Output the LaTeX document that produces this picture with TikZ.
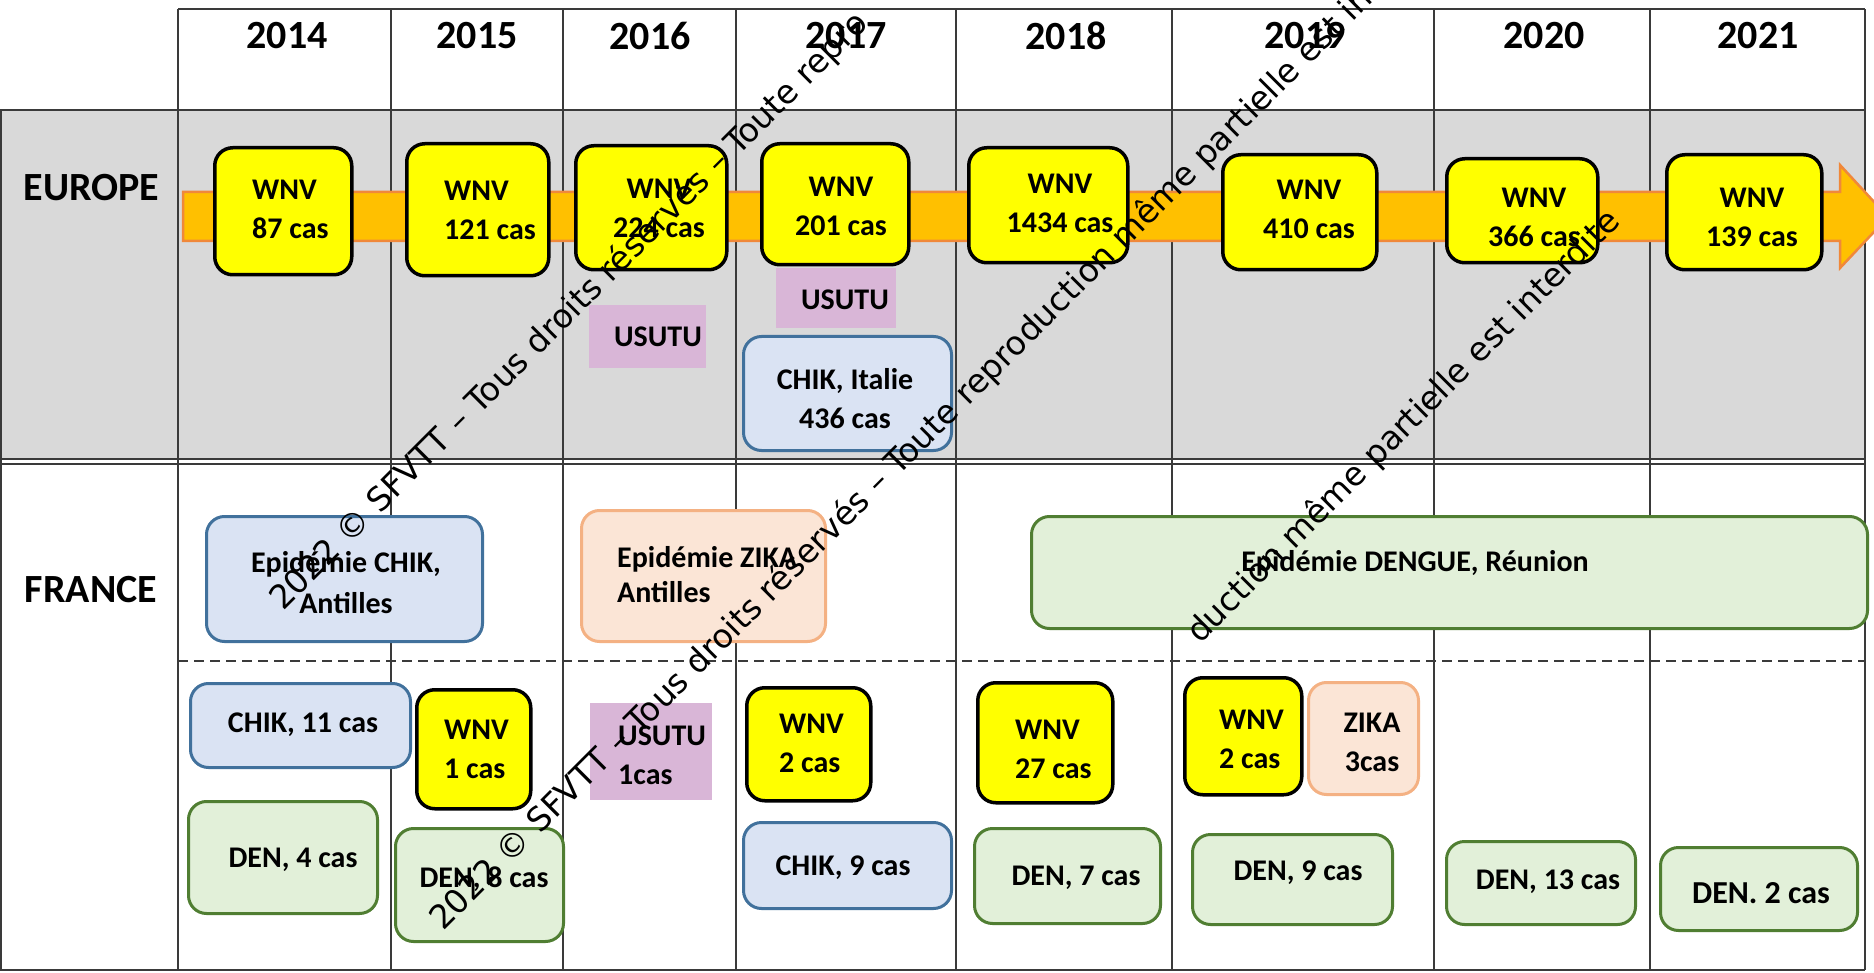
\documentclass[tikz,border=0pt]{standalone}
\usepackage{fontspec}
\setmainfont{Carlito}
\newfontfamily\wmfont{DejaVu Sans}
\definecolor{gridc}{HTML}{3A3A3A}
\definecolor{grayfill}{HTML}{D9D9D9}
\definecolor{arrowfill}{HTML}{FFC000}
\definecolor{arrowdraw}{HTML}{F0883A}
\definecolor{yel}{HTML}{FFFF00}
\definecolor{bluefill}{HTML}{DAE3F3}
\definecolor{bluedraw}{HTML}{41719C}
\definecolor{pinkfill}{HTML}{FBE5D6}
\definecolor{pinkdraw}{HTML}{F4B183}
\definecolor{greenfill}{HTML}{E2F0D9}
\definecolor{greendraw}{HTML}{507E32}
\definecolor{usutu}{HTML}{D9B6D7}
\tikzset{
  gridline/.style={draw=gridc, line width=2pt},
  wnvbox/.style={draw=black, fill=yel, line width=3.5pt, rounded corners=18pt},
  blubox/.style={draw=bluedraw, fill=bluefill, line width=3pt, rounded corners=18pt},
  orabox/.style={draw=pinkdraw, fill=pinkfill, line width=3pt, rounded corners=18pt},
  grnbox/.style={draw=greendraw, fill=greenfill, line width=3pt, rounded corners=18pt},
  usubox/.style={fill=usutu},
  txt/.style={font=\fontsize{30}{39}\selectfont\bfseries, inner sep=0pt, align=center, text=black},
  ltxt/.style={txt, align=left, anchor=west},
  hdr/.style={font=\fontsize{40}{48}\selectfont\bfseries, inner sep=0pt, text=black},
  wm/.style={font=\wmfont\fontsize{33}{40}\selectfont, rotate=45, anchor=base west, inner sep=0pt, text=black},
}
\newcommand{\bx}[6]{\node[#1, anchor=north west, minimum width={#5-#3}, minimum height={#6-#4}, inner sep=0pt] (#2) at (#3,#4) {};}
\begin{document}
\begin{tikzpicture}[x=1pt,y=-1pt]
\useasboundingbox (0,0) rectangle (1874,973);
\begin{scope}
\clip (0,0) rectangle (1874,973);
% grid
\fill[white] (0,0) rectangle (1874,973);
\fill[grayfill] (0,110) rectangle (1865,459);
\draw[gridline] (178,9.5) -- (1865,9.5);
\foreach \x in {178,391,563,736,956,1172,1434,1650,1865}
  \draw[gridline] (\x,9.5) -- (\x,970);
\draw[gridline] (1,110) -- (1,970);
\draw[gridline] (0,110) -- (1865,110);
\draw[gridline] (0,459) -- (1865,459);
\draw[gridline] (0,464) -- (1865,464);
\draw[gridline] (0,970) -- (1865,970);
\draw[draw=gridc, line width=2pt, dash pattern=on 10pt off 6pt] (178,661) -- (1865,661);
% headers
\node[hdr] (y2014) at (287,36) {2014};
\node[hdr] (y2015) at (477,36) {2015};
\node[hdr] (y2016) at (650,36) {2016};
\node[hdr] (y2017) at (846,36) {2017};
\node[hdr] (y2018) at (1066,36) {2018};
\node[hdr] (y2019) at (1305,36) {2019};
\node[hdr] (y2020) at (1544,36) {2020};
\node[hdr] (y2021) at (1758,36) {2021};
\node[hdr] (europe) at (91.5,188) {EUROPE};
\node[hdr] (france) at (91,590) {FRANCE};
% arrow
\draw[fill=arrowfill, draw=arrowdraw, line width=2.5pt, line join=miter]
  (183,192) -- (1840,192) -- (1840,165) -- (1888,217) -- (1840,268) -- (1840,241) -- (183,241) -- cycle;
% Europe WNV
\bx{wnvbox}{e1}{213}{146}{350}{273}
\node[ltxt] (e1t) at (252,209) {WNV\\87 cas};
\bx{wnvbox}{e2}{405}{142}{547}{274}
\node[ltxt] (e2t) at (444,210) {WNV\\121 cas};
\bx{wnvbox}{e3}{574}{144}{725}{268}
\node[txt] (e3t) at (659,208) {WNV\\224 cas};
\bx{wnvbox}{e4}{760}{142}{907}{263}
\node[txt] (e4t) at (841,206) {WNV\\201 cas};
\bx{wnvbox}{e5}{967}{146}{1126}{261}
\node[txt] (e5t) at (1060,203.5) {WNV\\1434 cas};
\bx{wnvbox}{e6}{1221}{153}{1375}{268}
\node[txt] (e6t) at (1309,209) {WNV\\410 cas};
\bx{wnvbox}{e7}{1445}{157}{1596}{261}
\node[txt] (e7t) at (1534,217) {WNV\\366 cas};
\bx{wnvbox}{e8}{1665}{153}{1820}{268}
\node[txt] (e8t) at (1752,217) {WNV\\139 cas};
% Europe others
\bx{usubox}{u1}{589}{305}{706}{368}
\node[txt] (u1t) at (658,337) {USUTU};
\bx{usubox}{u2}{776}{268}{896}{328}
\node[txt] (u2t) at (845,300) {USUTU};
\bx{blubox}{c1}{742}{335}{950}{449}
\node[txt] (c1t) at (845,399) {CHIK, Italie\\436 cas};
% France
\bx{blubox}{f1}{205}{515}{481}{640}
\node[txt, font=\fontsize{30}{41}\selectfont\bfseries] (f1t) at (346,582.5) {Epidémie CHIK,\\Antilles};
\bx{orabox}{f2}{580}{509}{824}{640}
\node[ltxt, font=\fontsize{30}{35}\selectfont\bfseries] (f2t) at (617,574.5) {Epidémie ZIKA\\Antilles};
\bx{grnbox}{f3}{1030}{515}{1866}{627}
\node[txt] (f3t) at (1415,563) {Epidémie DENGUE, Réunion};
\bx{blubox}{f4}{189}{682}{409}{766}
\node[txt] (f4t) at (303,725) {CHIK, 11 cas};
\bx{wnvbox}{f5}{415}{688}{529}{807}
\node[ltxt] (f5t) at (444,749) {WNV\\1 cas};
\bx{usubox}{f6}{590}{703}{712}{800}
\node[ltxt] (f6t) at (618,755) {USUTU\\1cas};
\bx{wnvbox}{f7}{745}{686}{869}{799}
\node[ltxt] (f7t) at (779,743) {WNV\\2 cas};
\bx{grnbox}{f8}{187}{800}{376}{912}
\node[txt] (f8t) at (293,860) {DEN, 4 cas};
\bx{grnbox}{f9}{394}{827}{562}{940}
\node[txt] (f9t) at (484,879) {DEN, 8 cas};
\bx{blubox}{f10}{742}{821}{950}{907}
\node[txt] (f10t) at (843,868) {CHIK, 9 cas};
\bx{wnvbox}{f11}{976}{681}{1111}{801}
\node[ltxt] (f11t) at (1015,749) {WNV\\27 cas};
\bx{wnvbox}{f12}{1183}{676}{1300}{793}
\node[ltxt] (f12t) at (1219,739) {WNV\\2 cas};
\bx{orabox}{f13}{1307}{681}{1417}{793}
\node[txt] (f13t) at (1372,742) {ZIKA\\3cas};
\bx{grnbox}{f14}{973}{827}{1159}{922}
\node[txt] (f14t) at (1076,878) {DEN, 7 cas};
\bx{grnbox}{f15}{1191}{833}{1391}{923}
\node[txt] (f15t) at (1298,873) {DEN, 9 cas};
\bx{grnbox}{f16}{1445}{840}{1634}{923}
\node[txt] (f16t) at (1548,882) {DEN, 13 cas};
\bx{grnbox}{f17}{1659}{846}{1856}{929}
\node[txt, font=\fontsize{32}{39}\selectfont\bfseries] (f17t) at (1761,893) {DEN. 2 cas};
% watermarks
\node[wm] (w1) at (283,612) {2022 © SFVTT – Tous droits réservés – Toute repro};
\node[wm] (w2) at (443,932) {2022 © SFVTT – Tous droits réservés – Toute reproduction même partielle est in};
\node[wm] (w3) at (1200,645) {duction même partielle est interdite};
\end{scope}
\end{tikzpicture}
\end{document}
